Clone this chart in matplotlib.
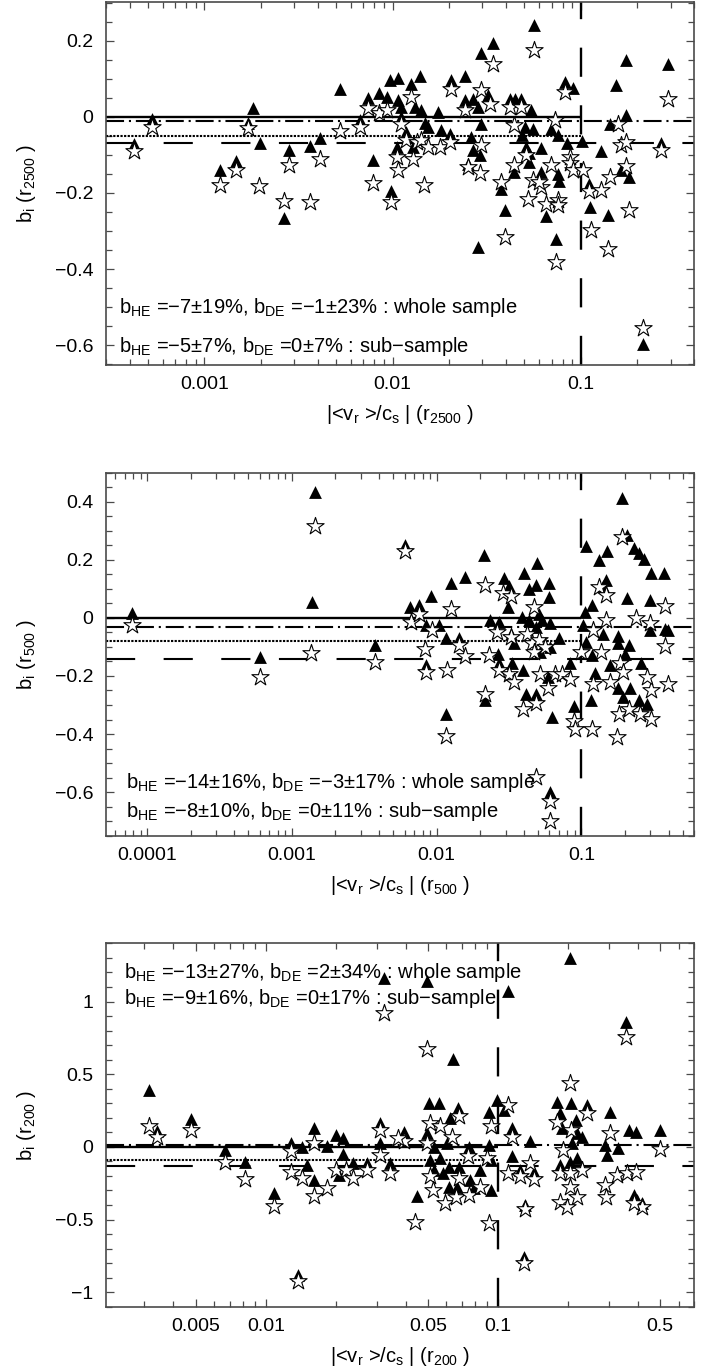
import numpy as np
import matplotlib
matplotlib.use("Agg")
import matplotlib.pyplot as plt
from matplotlib import ticker

plt.rcParams['font.family'] = ['Liberation Sans', 'DejaVu Sans']
plt.rcParams['mathtext.fontset'] = 'custom'
plt.rcParams['mathtext.rm'] = 'Liberation Sans'
plt.rcParams['mathtext.it'] = 'Liberation Sans'
plt.rcParams['lines.scale_dashes'] = False

# ---- panel 1: r2500 ----
p1_tri = [
    (4.2e-4, -0.072), (5.25e-4, -0.006), (1.21e-3, -0.140), (1.47e-3, -0.116),
    (1.81e-3, 0.022), (1.70e-3, -0.016), (1.97e-3, -0.070), (2.80e-3, -0.088),
    (2.64e-3, -0.267), (3.66e-3, -0.077), (4.12e-3, -0.055), (5.27e-3, 0.072),
    (6.73e-3, -0.007), (7.39e-3, 0.050), (7.87e-3, -0.114), (8.43e-3, 0.063),
    (9.38e-3, 0.053), (9.73e-3, 0.098), (0.0107, 0.103), (9.85e-3, -0.195),
    (0.0105, -0.079), (0.0107, 0.044), (0.0111, 0.026), (0.0111, 0.0),
    (0.0118, -0.039), (0.0125, 0.086), (0.0128, -0.079), (0.0131, 0.025),
    (0.0140, 0.107), (0.0142, 0.019), (0.0148, -0.016), (0.0154, -0.026),
    (0.0174, 0.013), (0.0180, -0.035), (0.0201, -0.044), (0.0204, 0.098),
    (0.0242, 0.107), (0.0242, 0.044), (0.0268, 0.048), (0.0285, 0.026),
    (0.0294, -0.018), (0.0260, -0.053), (0.0268, -0.088), (0.0291, -0.101),
    (0.0252, -0.123), (0.0294, 0.168), (0.0342, 0.193), (0.0322, 0.057),
    (0.0375, -0.189), (0.0394, -0.246), (0.0419, 0.048), (0.0446, 0.048),
    (0.0480, 0.048), (0.0542, 0.019), (0.0503, -0.026), (0.0558, -0.031),
    (0.0486, -0.048), (0.0514, -0.079), (0.0530, -0.096), (0.0532, -0.118),
    (0.0443, -0.145), (0.0614, -0.083), (0.0617, -0.145), (0.0561, 0.241),
    (0.0694, -0.031), (0.0759, -0.048), (0.0840, -0.070), (0.0759, -0.149),
    (0.0765, -0.168), (0.0656, -0.261), (0.0822, 0.092), (0.0912, 0.075),
    (0.101, -0.063), (0.110, -0.177), (0.112, -0.238), (0.128, -0.089),
    (0.139, -0.259), (0.143, -0.019), (0.153, 0.083), (0.173, 0.149),
    (0.173, 0.004), (0.164, -0.139), (0.180, -0.158), (0.292, 0.139),
    (0.267, -0.068), (0.0285, -0.342), (0.0735, -0.320), (0.215, -0.596),
]
p1_star = [
    (4.2e-4, -0.089), (5.25e-4, -0.026), (1.21e-3, -0.178), (1.47e-3, -0.140),
    (1.70e-3, -0.028), (1.95e-3, -0.182), (2.80e-3, -0.127), (2.64e-3, -0.221),
    (3.66e-3, -0.225), (4.12e-3, -0.110), (5.27e-3, -0.037), (6.73e-3, -0.026),
    (7.39e-3, 0.022), (7.87e-3, -0.174), (8.43e-3, 0.009), (9.38e-3, 0.018),
    (9.85e-3, -0.225), (0.0105, -0.105), (0.0107, -0.140), (0.0111, -0.018),
    (0.0118, -0.061), (0.0125, 0.053), (0.0128, -0.112), (0.0134, -0.066),
    (0.0142, -0.061), (0.0147, -0.178), (0.0154, -0.079), (0.0178, -0.079),
    (0.0201, -0.066), (0.0204, 0.072), (0.0242, 0.018), (0.0252, -0.131),
    (0.0291, -0.147), (0.0294, 0.070), (0.0296, -0.074), (0.0328, 0.035),
    (0.0342, 0.140), (0.0375, -0.171), (0.0394, -0.316), (0.0419, 0.026),
    (0.0480, 0.026), (0.0443, -0.022), (0.0443, -0.127), (0.0558, -0.167),
    (0.0617, -0.184), (0.0527, -0.215), (0.0561, 0.175), (0.0728, -0.009),
    (0.0698, -0.127), (0.0656, -0.228), (0.0755, -0.219), (0.0760, -0.232),
    (0.0822, 0.066), (0.0875, -0.105), (0.0880, -0.122), (0.0912, -0.140),
    (0.103, -0.140), (0.110, -0.195), (0.128, -0.191), (0.113, -0.298),
    (0.143, -0.158), (0.157, -0.018), (0.164, -0.074), (0.173, -0.066),
    (0.173, -0.130), (0.180, -0.246), (0.292, 0.048), (0.267, -0.088),
    (0.0735, -0.382), (0.139, -0.346), (0.215, -0.554), (0.0514, -0.100),
    (0.0600, -0.170),
]

# ---- panel 2: r500 ----
p2_tri = [
    (7.84e-5, 0.017), (6.03e-4, -0.134), (1.445e-3, 0.434), (1.37e-3, 0.055),
    (3.76e-3, -0.094), (6.05e-3, 0.251), (6.52e-3, 0.038), (7.55e-3, 0.044),
    (8.41e-3, -0.025), (9.2e-3, 0.075), (0.0103, -0.025), (0.0116, -0.071),
    (8.41e-3, -0.163), (0.0116, -0.332), (0.0125, 0.119), (0.0143, -0.071),
    (0.0157, 0.139), (0.0212, 0.216), (0.0216, -0.284), (0.0232, -0.008),
    (0.0270, -0.014), (0.0267, -0.123), (0.0270, -0.157), (0.0292, 0.136),
    (0.0316, 0.109), (0.0310, 0.038), (0.0325, -0.054), (0.0343, -0.088),
    (0.0334, -0.157), (0.0402, 0.153), (0.0397, -0.178), (0.0412, -0.261),
    (0.0483, -0.263), (0.0434, 0.101), (0.0483, 0.113), (0.0495, 0.188),
    (0.0597, 0.119), (0.0600, 0.072), (0.0390, 0.003), (0.0434, -0.008),
    (0.0507, 0.015), (0.0533, -0.008), (0.0609, -0.019), (0.0483, -0.031),
    (0.0700, -0.071), (0.0520, -0.117), (0.0609, -0.100), (0.0585, -0.203),
    (0.0830, -0.157), (0.0630, -0.341), (0.0889, -0.304), (0.0609, -0.600),
    (0.107, 0.247), (0.132, 0.199), (0.151, 0.231), (0.192, 0.412),
    (0.208, 0.285), (0.231, 0.239), (0.250, 0.222), (0.271, 0.201),
    (0.301, 0.153), (0.372, 0.153), (0.147, 0.132), (0.141, 0.109),
    (0.119, 0.044), (0.106, 0.021), (0.102, -0.025), (0.141, -0.056),
    (0.107, -0.083), (0.119, -0.129), (0.124, -0.190), (0.116, -0.284),
    (0.157, -0.163), (0.180, -0.063), (0.180, -0.088), (0.213, -0.094),
    (0.200, -0.123), (0.180, -0.243), (0.194, -0.272), (0.216, -0.243),
    (0.250, -0.284), (0.285, -0.295), (0.260, -0.155), (0.296, 0.061),
    (0.296, -0.042), (0.378, -0.040), (0.396, -0.042), (0.208, 0.067),
]
p2_star = [
    (7.84e-5, -0.025), (6.03e-4, -0.203), (1.445e-3, 0.316), (1.35e-3, -0.121),
    (3.76e-3, -0.152), (6.05e-3, 0.231), (6.6e-3, -0.014), (7.55e-3, 0.015),
    (9.33e-3, -0.042), (8.3e-3, -0.106), (8.41e-3, -0.186), (0.0117, -0.180),
    (0.0116, -0.408), (0.0125, 0.029), (0.0143, -0.094), (0.0158, -0.132),
    (0.0216, 0.113), (0.0216, -0.263), (0.0230, -0.129), (0.0262, -0.048),
    (0.0270, -0.180), (0.0287, 0.086), (0.0325, 0.075), (0.0325, -0.065),
    (0.0316, -0.192), (0.0340, -0.221), (0.0394, -0.313), (0.0483, -0.293),
    (0.0470, 0.038), (0.0420, -0.054), (0.0455, -0.088), (0.0507, -0.077),
    (0.0560, -0.100), (0.0470, -0.117), (0.0585, -0.240), (0.0520, -0.192),
    (0.0659, -0.194), (0.0738, -0.192), (0.0830, -0.209), (0.0889, -0.355),
    (0.0910, -0.381), (0.118, -0.381), (0.0609, -0.629), (0.0609, -0.698),
    (0.0483, -0.548), (0.190, 0.279), (0.132, 0.107), (0.149, 0.078),
    (0.121, -0.042), (0.149, -0.006), (0.099, -0.117), (0.137, -0.117),
    (0.121, -0.226), (0.157, -0.221), (0.185, -0.155), (0.195, -0.186),
    (0.182, -0.330), (0.213, -0.313), (0.253, -0.330), (0.301, -0.347),
    (0.301, -0.247), (0.285, -0.203), (0.176, -0.410), (0.239, -0.002),
    (0.296, -0.019), (0.378, 0.040), (0.378, -0.098), (0.396, -0.226),
]

# ---- panel 3: r200 ----
p3_tri = [
    (3.15e-3, 0.393), (3.40e-3, 0.112), (4.76e-3, 0.191), (6.69e-3, -0.021),
    (8.1e-3, -0.101), (0.0108, -0.315), (0.0128, 0.025), (0.0143, 0.002),
    (0.0161, 0.129), (0.0137, -0.882), (0.0151, -0.124), (0.0161, -0.227),
    (0.0184, 0.007), (0.0200, 0.083), (0.0216, 0.060), (0.0216, -0.048),
    (0.0206, -0.193), (0.0238, -0.112), (0.0273, -0.112), (0.0312, 0.163),
    (0.0312, 0.025), (0.0342, -0.112), (0.0323, 1.162), (0.0496, 1.138),
    (0.0640, 0.605), (0.111, 1.07), (0.205, 1.30), (0.358, 0.856),
    (0.0446, -0.337), (0.0503, 0.301), (0.0556, 0.301), (0.0671, 0.267),
    (0.0620, 0.198), (0.099, 0.324), (0.092, 0.243), (0.106, 0.255),
    (0.115, 0.129), (0.137, 0.037), (0.115, -0.062), (0.125, -0.158),
    (0.143, -0.170), (0.131, -0.400), (0.130, -0.756), (0.0496, 0.094),
    (0.0393, 0.105), (0.0528, 0.002), (0.0604, 0.025), (0.0748, 0.002),
    (0.0913, 0.014), (0.0512, -0.090), (0.0565, -0.078), (0.0528, -0.158),
    (0.0580, -0.181), (0.0613, -0.136), (0.0678, -0.136), (0.0760, -0.227),
    (0.0840, -0.158), (0.0930, -0.090), (0.0930, -0.296), (0.0613, -0.273),
    (0.0667, -0.273), (0.0786, -0.284), (0.180, 0.312), (0.207, 0.301),
    (0.185, 0.232), (0.216, 0.186), (0.242, 0.289), (0.189, 0.129),
    (0.219, 0.094), (0.231, 0.071), (0.209, 0.025), (0.186, -0.124),
    (0.205, -0.101), (0.219, -0.078), (0.303, 0.243), (0.288, 0.014),
    (0.295, -0.055), (0.328, -0.009), (0.367, 0.117), (0.395, 0.105),
    (0.501, 0.117), (0.385, -0.331), (0.397, -0.365), (0.419, -0.388),
]
p3_star = [
    (3.15e-3, 0.145), (3.40e-3, 0.071), (4.76e-3, 0.117), (6.69e-3, -0.101),
    (8.1e-3, -0.223), (0.0108, -0.406), (0.0128, -0.032), (0.0128, -0.170),
    (0.0161, 0.025), (0.0137, -0.921), (0.0143, -0.216), (0.0161, -0.337),
    (0.0184, -0.284), (0.0200, -0.158), (0.0221, -0.158), (0.0238, -0.216),
    (0.0273, -0.158), (0.0312, 0.117), (0.0312, -0.055), (0.0342, -0.181),
    (0.0323, 0.921), (0.0496, 0.675), (0.0441, -0.514), (0.204, 0.439),
    (0.358, 0.755), (0.0678, 0.209), (0.0508, 0.167), (0.0562, 0.140),
    (0.0635, 0.071), (0.111, 0.289), (0.093, 0.140), (0.115, 0.067),
    (0.111, -0.181), (0.125, -0.204), (0.143, -0.222), (0.137, -0.112),
    (0.131, -0.430), (0.130, -0.797), (0.0913, -0.521), (0.0496, 0.025),
    (0.0393, 0.037), (0.0740, -0.062), (0.0900, -0.078), (0.0512, -0.204),
    (0.0526, -0.296), (0.0594, -0.388), (0.0657, -0.342), (0.0748, -0.331),
    (0.0678, -0.216), (0.0840, -0.273), (0.0373, 0.060), (0.242, 0.232),
    (0.180, 0.174), (0.207, 0.117), (0.191, -0.021), (0.186, -0.181),
    (0.205, -0.181), (0.231, -0.158), (0.205, -0.273), (0.219, -0.342),
    (0.186, -0.377), (0.198, -0.411), (0.305, 0.094), (0.288, -0.262),
    (0.293, -0.342), (0.501, -0.016), (0.326, -0.193), (0.361, -0.181),
    (0.392, -0.170), (0.419, -0.411), (0.385, -0.388),
]

# mean biases: (b_HE whole, b_DE whole, b_HE sub, b_DE sub)
means = [(-0.07, -0.01, -0.05, 0.0), (-0.14, -0.03, -0.08, 0.0), (-0.13, 0.01, -0.09, 0.0)]
texts = [
    (r"b$_{\rm HE}$ =−7±19%, b$_{\rm DE}$ =−1±23% : whole sample",
     r"b$_{\rm HE}$ =−5±7%, b$_{\rm DE}$ =0±7% : sub−sample"),
    (r"b$_{\rm HE}$ =−14±16%, b$_{\rm DE}$ =−3±17% : whole sample",
     r"b$_{\rm HE}$ =−8±10%, b$_{\rm DE}$ =0±11% : sub−sample"),
    (r"b$_{\rm HE}$ =−13±27%, b$_{\rm DE}$ =2±34% : whole sample",
     r"b$_{\rm HE}$ =−9±16%, b$_{\rm DE}$ =0±17% : sub−sample"),
]
radii = ["2500", "500", "200"]
xlims = [(3.0e-4, 0.40), (5.2e-5, 0.60), (2.05e-3, 0.70)]
ylims = [(-0.652, 0.302), (-0.75, 0.50), (-1.10, 1.40)]
xmajors = [[0.001, 0.01, 0.1], [0.0001, 0.001, 0.01, 0.1], [0.005, 0.01, 0.05, 0.1, 0.5]]
ymajor = [0.2, 0.2, 0.5]
yminor = [0.05, 0.05, 0.1]
text_pos = [((0.022, 0.157), (0.022, 0.052)),
            ((0.034, 0.147), (0.034, 0.066)),
            ((0.030, 0.920), (0.030, 0.847))]
boxes = [[0.1483, 0.7336, 0.8224, 0.2650],
         [0.1483, 0.3900, 0.8224, 0.2650],
         [0.1483, 0.0462, 0.8224, 0.2652]]

fig = plt.figure(figsize=(7.15, 13.70), dpi=100)
edge = '#4a4a4a'
for i, (tri, star) in enumerate([(p1_tri, p1_star), (p2_tri, p2_star), (p3_tri, p3_star)]):
    ax = fig.add_axes(boxes[i])
    ax.set_xscale('log')
    ax.set_xlim(*xlims[i])
    ax.set_ylim(*ylims[i])

    he_w, de_w, he_s, de_s = means[i]
    x0 = xlims[i][0]
    ax.hlines(de_s, x0, 0.1, color='black', lw=1.7, zorder=2)
    ax.axhline(de_w, color='black', lw=1.5, dashes=(13, 3.5, 1.5, 3.5), zorder=2)
    ax.hlines(he_s, x0, 0.1, color='black', lw=1.5, linestyles=(0, (1.6, 1.0)), zorder=2)
    ax.axhline(he_w, color='black', lw=1.5, dashes=(21, 20.5), zorder=2)
    ax.axvline(0.1, color='black', lw=1.7, dashes=(21, 20.5), zorder=2)

    tx, ty = zip(*tri)
    sx, sy = zip(*star)
    ax.scatter(tx, ty, marker='^', s=85, color='black', linewidths=0, zorder=3)
    ax.scatter(sx, sy, marker='*', s=170, facecolor='white', edgecolor='black',
               linewidths=0.8, zorder=4)

    for (px, py), s in zip(text_pos[i], texts[i]):
        ax.text(px, py, s, transform=ax.transAxes, fontsize=14.5, va='center',
                ha='left', zorder=5)

    ax.xaxis.set_major_locator(ticker.FixedLocator(xmajors[i]))
    ax.xaxis.set_major_formatter(ticker.FuncFormatter(lambda v, p: f"{v:g}"))
    ax.xaxis.set_minor_locator(ticker.LogLocator(base=10, subs=np.arange(1, 10), numticks=50))
    ax.xaxis.set_minor_formatter(ticker.NullFormatter())
    ax.yaxis.set_major_locator(ticker.MultipleLocator(ymajor[i]))
    ax.yaxis.set_minor_locator(ticker.MultipleLocator(yminor[i]))
    ax.yaxis.set_major_formatter(ticker.FuncFormatter(
        lambda v, p: ("%g" % round(v, 3)).replace('-', '−')))

    ax.tick_params(which='both', direction='in', top=True, right=True,
                   colors=edge, labelcolor='black', labelsize=14, width=0.9)
    ax.tick_params(which='major', length=6)
    ax.tick_params(which='minor', length=4)
    ax.tick_params(axis='x', pad=8)
    ax.tick_params(axis='y', pad=9)
    for sp in ax.spines.values():
        sp.set_color(edge)
        sp.set_linewidth(1.2)

    r = radii[i]
    ax.set_ylabel(r"b$_{\rm i}$ (r$_{\rm %s}$ )" % r, fontsize=14.5, labelpad=12)
    ax.set_xlabel(r"|<v$_{\rm r}$ >/c$_{\rm s}$ | (r$_{\rm %s}$ )" % r, fontsize=14.5,
                  labelpad=7)

fig.savefig("out.png", dpi=100)
